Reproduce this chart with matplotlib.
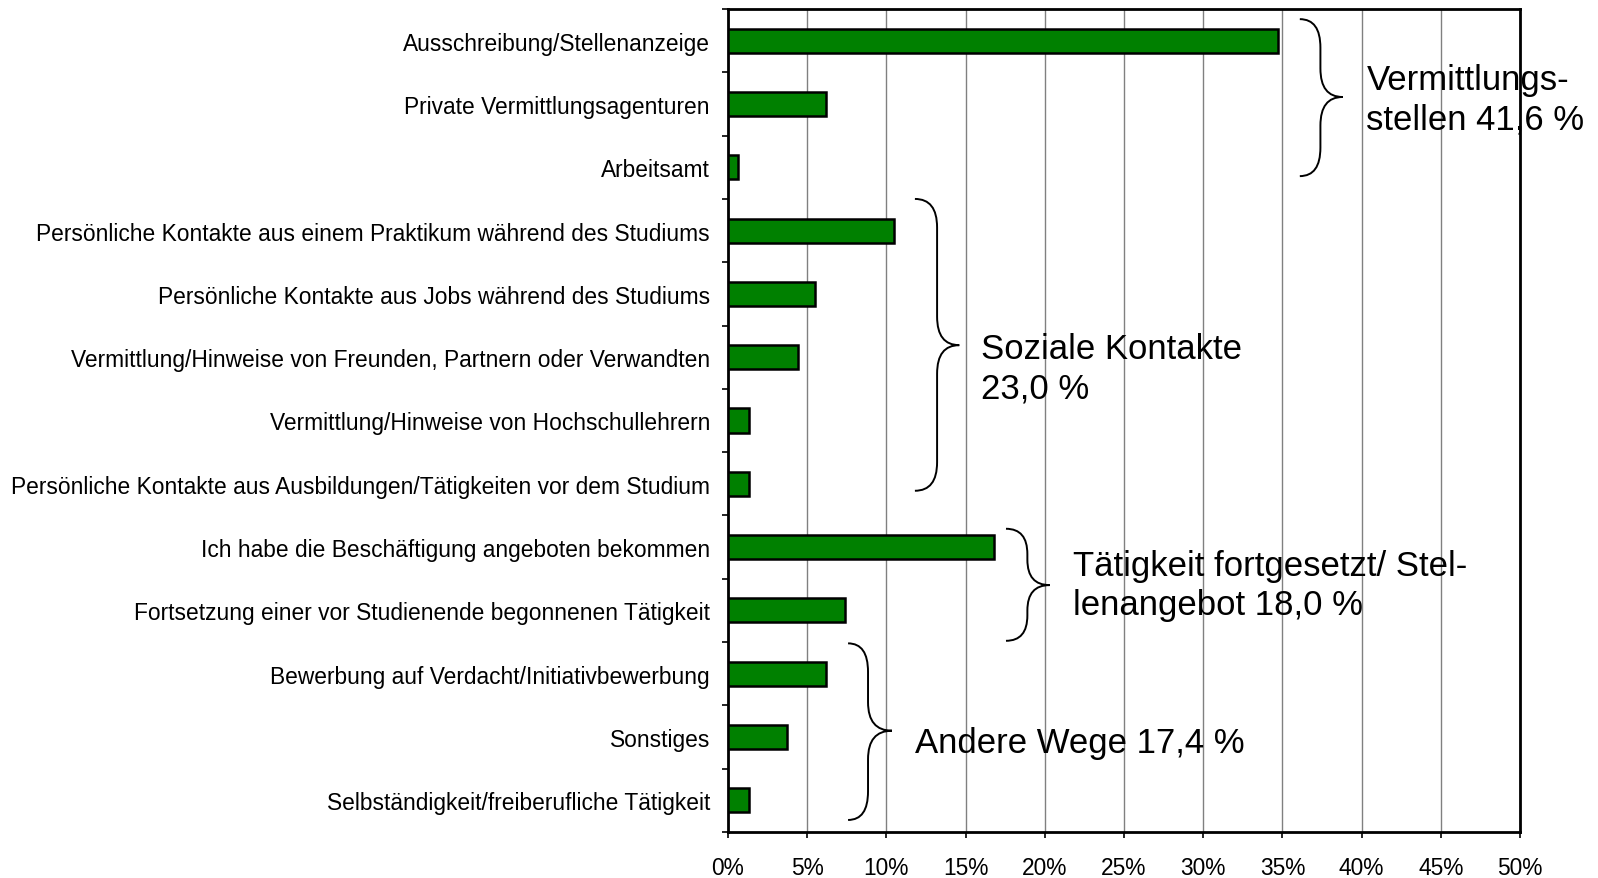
import matplotlib
matplotlib.use("Agg")
import matplotlib.pyplot as plt
from matplotlib.path import Path
from matplotlib.patches import PathPatch
import numpy as np

plt.rcParams['font.family'] = ['Liberation Sans', 'DejaVu Sans']

categories = [
    "Ausschreibung/Stellenanzeige",
    "Private Vermittlungsagenturen",
    "Arbeitsamt",
    "Persönliche Kontakte aus einem Praktikum während des Studiums",
    "Persönliche Kontakte aus Jobs während des Studiums",
    "Vermittlung/Hinweise von Freunden, Partnern oder Verwandten",
    "Vermittlung/Hinweise von Hochschullehrern",
    "Persönliche Kontakte aus Ausbildungen/Tätigkeiten vor dem Studium",
    "Ich habe die Beschäftigung angeboten bekommen",
    "Fortsetzung einer vor Studienende begonnenen Tätigkeit",
    "Bewerbung auf Verdacht/Initiativbewerbung",
    "Sonstiges",
    "Selbständigkeit/freiberufliche Tätigkeit",
]
values = [34.7, 6.2, 0.6, 10.5, 5.5, 4.4, 1.3, 1.3, 16.8, 7.4, 6.2, 3.7, 1.3]
xticks = [0, 5, 10, 15, 20, 25, 30, 35, 40, 45, 50]
xticklabels = [f"{v}%" for v in xticks]

group_labels = [
    "Vermittlungs-\nstellen 41,6 %",
    "Soziale Kontakte\n23,0 %",
    "Tätigkeit fortgesetzt/ Stel-\nlenangebot 18,0 %",
    "Andere Wege 17,4 %",
]

W, H = 1598, 879
fig = plt.figure(figsize=(W / 100, H / 100), dpi=100)
ax = fig.add_axes([728 / W, 1 - 833 / H, (1520 - 728) / W, (833 - 10) / H])

y = np.arange(len(categories))
ax.barh(y, values, height=0.38, color="#008000", edgecolor="black", linewidth=1.8, zorder=3)

ax.set_xlim(0, 50)
ax.set_ylim(len(categories) - 0.5, -0.5)
ax.set_xticks(xticks)
ax.set_xticklabels(xticklabels, fontsize=16.4)
ax.set_yticks(y)
ax.set_yticklabels(categories, fontsize=16.4)
ax.set_yticks(np.arange(len(categories) + 1) - 0.5, minor=True)
ax.tick_params(axis="y", which="major", length=0, pad=13)
ax.tick_params(axis="y", which="minor", length=4.5, width=1.2, direction="out")
ax.tick_params(axis="x", which="major", length=4, width=1.2, direction="out", pad=13)
ax.xaxis.grid(True, color="#808080", linewidth=1.0, zorder=0)
ax.set_axisbelow(True)
for s in ax.spines.values():
    s.set_linewidth(2)
    s.set_color("black")


def brace(x0, xv, xp, ytop, ymid, ybot, r=0.4):
    verts = [
        (x0, ytop), (xv, ytop), (xv, ytop + r),
        (xv, ymid - r), (xv, ymid), (xp, ymid),
        (xv, ymid), (xv, ymid + r),
        (xv, ybot - r), (xv, ybot), (x0, ybot),
    ]
    codes = [Path.MOVETO, Path.CURVE3, Path.CURVE3,
             Path.LINETO, Path.CURVE3, Path.CURVE3,
             Path.CURVE3, Path.CURVE3,
             Path.LINETO, Path.CURVE3, Path.CURVE3]
    p = PathPatch(Path(verts, codes), facecolor="none", edgecolor="black",
                  linewidth=1.4, clip_on=False, zorder=5)
    ax.add_patch(p)


brace(36.1, 37.4, 38.8, -0.34, 0.89, 2.14, r=0.45)
brace(11.8, 13.2, 14.6, 2.5, 4.81, 7.11, r=0.45)
brace(17.55, 18.9, 20.3, 7.71, 8.6, 9.48, r=0.4)
brace(7.58, 8.84, 10.35, 9.52, 10.9, 12.31, r=0.45)

txt_kw = dict(fontsize=25, va="center", ha="left", linespacing=1.25, zorder=6, clip_on=False)
ax.text(40.3, 0.92, group_labels[0], **txt_kw)
ax.text(16.0, 5.17, group_labels[1], **txt_kw)
ax.text(21.8, 8.6, group_labels[2], **txt_kw)
ax.text(11.8, 11.08, group_labels[3], **txt_kw)

fig.savefig("out.png", dpi=100)
